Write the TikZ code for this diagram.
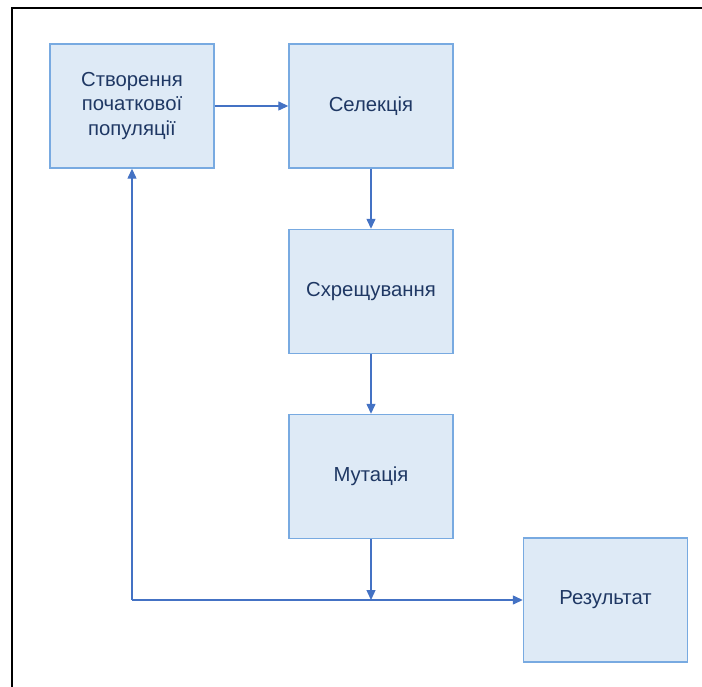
\documentclass[tikz,border=0pt]{standalone}
\usepackage{fontspec}
\setmainfont{Liberation Sans}
\usetikzlibrary{arrows.meta}
\definecolor{boxfill}{RGB}{222,234,246}
\definecolor{boxline}{RGB}{120,170,225}
\definecolor{arrowcol}{RGB}{68,114,196}
\definecolor{txtcol}{RGB}{31,56,100}
\begin{document}
\begin{tikzpicture}[x=1pt,y=-1pt,
  stepbox/.style={draw=boxline, fill=boxfill, line width=1.4pt,
    minimum width=164pt, minimum height=124pt, inner sep=0pt,
    text=txtcol, align=center,
    font=\fontsize{20.3}{24.5}\selectfont},
  arr/.style={draw=arrowcol, line width=1.3pt,
    -{Triangle[length=10pt,width=9pt]}},
  frameline/.style={draw=black, line width=2pt}]
\useasboundingbox (0,0) rectangle (702,687);
% frame
\coordinate (f0) at (12,688);
\coordinate (f1) at (12,8);
\coordinate (f2) at (703,8);
\draw[frameline] (f0) -- (f1) -- (f2);
% boxes
\node[stepbox] (b1) at (132,106) {Створення\\початкової\\популяції};
\node[stepbox] (b2) at (371,106) {Селекція};
\node[stepbox] (b3) at (371,291.5) {Схрещування};
\node[stepbox] (b4) at (371,476.5) {Мутація};
\node[stepbox] (b5) at (605.5,600) {Результат};
% connectors
\coordinate (j) at (371,600);
\coordinate (c) at (132,600);
\draw[arr] (b1.east) -- (b2.west);
\draw[arr] (b2.south) -- (b3.north);
\draw[arr] (b3.south) -- (b4.north);
\draw[arr] (b4.south) -- (j);
\draw[arr] (c) -- (b5.west);
\draw[arr] (c) -- (b1.south);
\end{tikzpicture}
\end{document}
